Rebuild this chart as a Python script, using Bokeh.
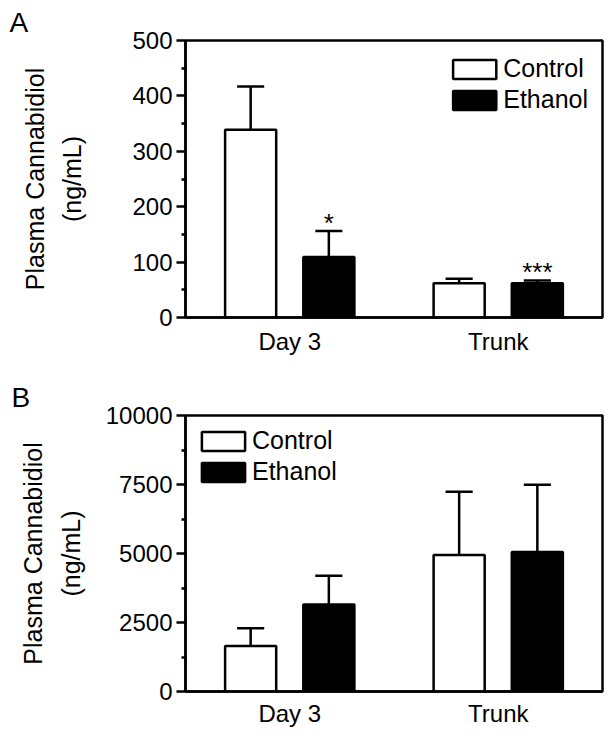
from bokeh.plotting import figure
from bokeh.models import FixedTicker, ColumnDataSource
from bokeh.layouts import column
from bokeh.embed import file_html
from bokeh.resources import INLINE
from bokeh.core.properties import value

FONT = "Liberation Sans"

groups = ["Day 3", "Trunk"]
series = ["Control", "Ethanol"]

# Panel A (ng/mL)
a_control_mean = [339, 62]
a_control_sem = [78, 8]
a_ethanol_mean = [109, 62]
a_ethanol_sem = [47, 5]
a_sig = ["*", "***"]
a_y_ticks = [0, 100, 200, 300, 400, 500]

# Panel B (ng/mL)
b_control_mean = [1650, 4950]
b_control_sem = [640, 2285]
b_ethanol_mean = [3150, 5050]
b_ethanol_sem = [1045, 2440]
b_sig = ["", ""]
b_y_ticks = [0, 2500, 5000, 7500, 10000]


def make_panel(letter, cm, cs, em, es, sig, yticks, legend_loc, legend_margin,
               height, min_top, min_bottom, min_left, ylabel_standoff, x_standoff):
    p = figure(width=608, height=height, x_range=(0.5, 2.5),
               y_range=(yticks[0], yticks[-1]),
               output_backend="svg", toolbar_location=None,
               min_border_left=min_left, min_border_right=6,
               min_border_top=min_top, min_border_bottom=min_bottom)
    p.xgrid.visible = False
    p.ygrid.visible = False
    p.background_fill_color = "white"
    p.border_fill_color = "white"
    p.outline_line_color = "black"
    p.outline_line_width = 2.5

    # panel letter as title
    p.title.text = letter
    p.title.align = "left"
    p.title.offset = 9 - min_left
    p.title.standoff = 6
    p.title.text_font = FONT
    p.title.text_font_size = "28px"
    p.title.text_font_style = "normal"
    p.title.text_color = "black"

    gx = [i + 1 for i in range(len(groups))]
    off = 0.1875
    bw = 0.245
    cap = 0.065
    for mean, sem, dx, fill, name, marks in [
        (cm, cs, -off, "white", series[0], None),
        (em, es, off, "black", series[1], sig),
    ]:
        xs = [g + dx for g in gx]
        up = [m + s for m, s in zip(mean, sem)]
        src = ColumnDataSource(dict(
            x=xs, top=mean, up=up,
            cl=[x - cap for x in xs], cr=[x + cap for x in xs]))
        p.segment(x0="x", y0="top", x1="x", y1="up", source=src,
                  line_color="black", line_width=2.5)
        p.segment(x0="cl", y0="up", x1="cr", y1="up", source=src,
                  line_color="black", line_width=2.5)
        p.vbar(x="x", top="top", bottom=0, width=bw, source=src,
               fill_color=fill, line_color="black", line_width=2.5,
               legend_label=name)
        if marks is not None:
            tsrc = ColumnDataSource(dict(x=xs, y=up, t=marks))
            p.text(x="x", y="y", text="t", source=tsrc,
                   text_align="center", text_baseline="alphabetic",
                   y_offset=-8,
                   text_font=value(FONT), text_font_size="26px",
                   text_color="black")

    # x axis
    xa = p.xaxis[0]
    xa.ticker = FixedTicker(ticks=gx)
    xa.major_label_overrides = {g: n for g, n in zip(gx, groups)}
    xa.major_tick_line_color = None
    xa.minor_tick_line_color = None
    xa.major_tick_out = 0
    xa.major_tick_in = 0
    xa.major_label_standoff = x_standoff
    xa.axis_line_width = 2.5
    xa.axis_line_color = "black"
    xa.major_label_text_font = FONT
    xa.major_label_text_font_size = "24px"
    xa.major_label_text_color = "black"

    # y axis
    ya = p.yaxis[0]
    minors = [(a + b) / 2 for a, b in zip(yticks[:-1], yticks[1:])]
    ya.ticker = FixedTicker(ticks=yticks, minor_ticks=minors)
    ya.major_tick_out = 9
    ya.major_tick_in = 0
    ya.minor_tick_out = 4
    ya.minor_tick_in = 0
    ya.major_tick_line_width = 2.5
    ya.minor_tick_line_width = 2.5
    ya.major_tick_line_color = "black"
    ya.minor_tick_line_color = "black"
    ya.axis_line_width = 2.5
    ya.axis_line_color = "black"
    ya.major_label_standoff = 4
    ya.major_label_text_font = FONT
    ya.major_label_text_font_size = "24px"
    ya.major_label_text_color = "black"
    ya.axis_label = "Plasma Cannabidiol\n(ng/mL)"
    ya.axis_label_text_font = FONT
    ya.axis_label_text_font_size = "25px"
    ya.axis_label_text_font_style = "normal"
    ya.axis_label_text_color = "black"
    ya.axis_label_text_line_height = 1.35
    ya.axis_label_standoff = ylabel_standoff

    # legend
    lg = p.legend[0]
    lg.location = legend_loc
    lg.border_line_color = None
    lg.background_fill_alpha = 0
    lg.glyph_width = 54
    lg.glyph_height = 24
    lg.label_standoff = 2
    lg.spacing = 2
    lg.padding = 0
    lg.margin = legend_margin
    lg.label_text_font = FONT
    lg.label_text_font_size = "25px"
    lg.label_text_color = "black"
    return p


pA = make_panel("A", a_control_mean, a_control_sem, a_ethanol_mean, a_ethanol_sem,
                a_sig, a_y_ticks, "top_right", 14,
                height=366, min_top=40, min_bottom=49, min_left=185,
                ylabel_standoff=43, x_standoff=10)
pB = make_panel("B", b_control_mean, b_control_sem, b_ethanol_mean, b_ethanol_sem,
                b_sig, b_y_ticks, "top_left", 11,
                height=363, min_top=49, min_bottom=37, min_left=183,
                ylabel_standoff=18, x_standoff=8)

layout = column(pA, pB, spacing=0)
open("out.html", "w").write(file_html(layout, INLINE))
